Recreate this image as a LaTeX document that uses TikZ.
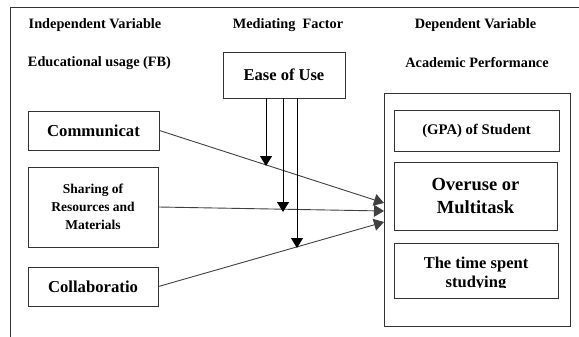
\documentclass[tikz,border=0pt]{standalone}
\usepackage{fontspec}
\setmainfont{Liberation Serif}
\usetikzlibrary{arrows.meta}
\begin{document}
\begin{tikzpicture}[x=1pt,y=-1pt,
  box/.style={draw=black!80,line width=0.9pt,rectangle,inner sep=0pt,font=\bfseries},
  head/.style={font=\bfseries\fontsize{14.3}{16}\selectfont,inner sep=0pt},
  link/.style={draw=black!75,line width=0.9pt,-{Triangle[length=10pt,width=12pt]}},
  drop/.style={draw=black,line width=0.9pt,-{Triangle[length=10pt,width=12pt]}}]
\useasboundingbox (0,0) rectangle (579,337);
% frame
\draw[black!80,line width=0.9pt] (10,337) -- (10,7) -- (579,7);
% headings
\node[head] (h1) at (95,25) {Independent Variable};
\node[head] (h2) at (288,25) {Mediating\ \ Factor};
\node[head] (h3) at (475.5,25) {Dependent Variable};
\node[head] (h4) at (99.5,63) {Educational usage (FB)};
\node[head] (h5) at (477,63) {Academic Performance};
% left boxes
\node[box,minimum width=131,minimum height=39,font=\bfseries\fontsize{16.7}{18}\selectfont] (comm) at (93.5,130.5) {Communicat};
\node[box,minimum width=130,minimum height=80,align=center,font=\bfseries\fontsize{13.5}{18}\selectfont] (share) at (93,207) {Sharing of\\Resources and\\Materials};
\node[box,minimum width=130,minimum height=39,font=\bfseries\fontsize{16.7}{18}\selectfont] (coll) at (93,286.5) {Collaboratio};
% mediator
\node[box,minimum width=122,minimum height=46,font=\bfseries\fontsize{16.5}{18}\selectfont] (ease) at (284,75) {Ease of Use};
% outcome group
\node[box,minimum width=186,minimum height=233] (dep) at (477,209.5) {};
\node[box,minimum width=165,minimum height=41,font=\bfseries\fontsize{14.7}{16}\selectfont] (gpa) at (476.5,130.5) {(GPA) of Student};
\node[box,minimum width=163,minimum height=68,align=center,font=\bfseries\fontsize{18.5}{23}\selectfont] (over) at (475.5,196) {Overuse or\\Multitask};
\node[box,minimum width=164,minimum height=55] (time) at (476,270.5) {};
\node[font=\bfseries\fontsize{16.5}{18}\selectfont,inner sep=0pt] (time1) at (476,265) {The time spent};
\begin{scope}
  \clip (395,274) rectangle (557,287);
  \node[font=\bfseries\fontsize{16.5}{18}\selectfont,inner sep=0pt,anchor=base] (time2) at (476,287) {studying};
\end{scope}
% arrow ends on the outcome group
\coordinate (tA) at (384,203);
\coordinate (tB) at (384,211);
\coordinate (tC) at (384,222);
\draw[link] (comm.east) -- (tA);
\draw[link] (share.east |- 0,207) -- (tB);
\draw[link] (coll.east) -- (tC);
% moderating arrows
\coordinate (m1) at (266,166);
\coordinate (m2) at (283,212);
\coordinate (m3) at (297,248);
\draw[drop] (ease.south -| m1) -- (m1);
\draw[drop] (ease.south -| m2) -- (m2);
\draw[drop] (ease.south -| m3) -- (m3);
\end{tikzpicture}
\end{document}
